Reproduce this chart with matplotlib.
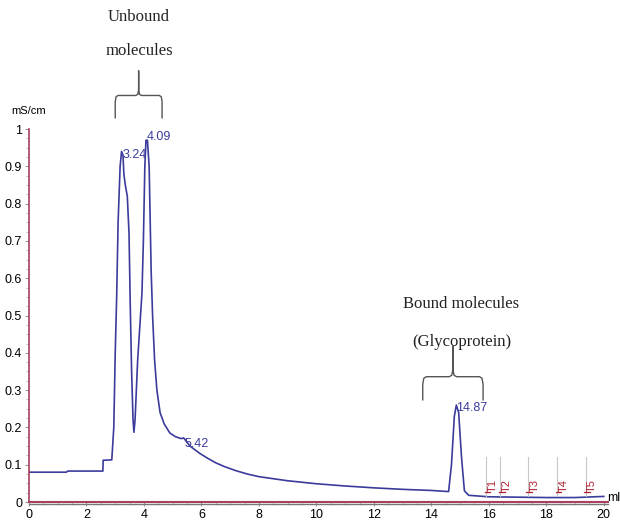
import numpy as np
import matplotlib
matplotlib.use("Agg")
import matplotlib.pyplot as plt
from matplotlib.ticker import MultipleLocator

# chromatogram trace (ml, mS/cm)
volume = [0, 1.3, 1.35, 2.3, 2.57, 2.58, 2.88, 2.95, 3.0, 3.05, 3.1, 3.17, 3.22,
          3.27, 3.3, 3.35, 3.42, 3.48, 3.52, 3.57, 3.62, 3.65, 3.69, 3.78, 3.88,
          3.93, 3.98, 4.03, 4.07, 4.12, 4.18, 4.25, 4.3, 4.37, 4.45, 4.56, 4.7,
          4.9, 5.1, 5.3, 5.38, 5.45, 5.6, 5.95, 6.2, 6.5, 6.8, 7.2, 7.6, 8, 9,
          10, 11, 12, 13, 14, 14.6, 14.7, 14.8, 14.87, 14.95, 15.05, 15.15,
          15.3, 16, 17, 18, 19, 20]
conductivity = [0.08, 0.08, 0.083, 0.083, 0.083, 0.112, 0.113, 0.2, 0.4, 0.55,
                0.75, 0.9, 0.94, 0.93, 0.88, 0.85, 0.82, 0.72, 0.54, 0.35, 0.22,
                0.187, 0.22, 0.38, 0.5, 0.56, 0.7, 0.9, 0.97, 0.97, 0.9, 0.62,
                0.5, 0.38, 0.3, 0.24, 0.21, 0.185, 0.175, 0.17, 0.172, 0.165,
                0.15, 0.13, 0.118, 0.105, 0.095, 0.084, 0.075, 0.068, 0.057,
                0.049, 0.043, 0.038, 0.034, 0.031, 0.028, 0.1, 0.23, 0.26,
                0.24, 0.12, 0.03, 0.018, 0.014, 0.013, 0.012, 0.012, 0.015]

peak_x = [3.24, 4.09, 5.42, 14.87]
peak_y = [0.93, 0.98, 0.155, 0.253]
peak_labels = ["3.24", "4.09", "5.42", "14.87"]

fraction_x = [15.9, 16.4, 17.36, 18.37, 19.37]
fraction_labels = ["T1", "T2", "T3", "T4", "T5"]

sans = ["Liberation Sans Narrow", "Liberation Sans", "DejaVu Sans"]
serif = ["Liberation Serif", "DejaVu Serif"]
line_col = "#3b3b9c"
axis_red = "#a8405e"


def brace(ax, x0, x1, y_top, y_bar, y_end):
    xm = (x0 + x1) / 2
    dx = (x1 - x0) * 0.06
    dy = (y_top - y_bar) * 0.25
    xs = [x0, x0, x0 + dx * 0.3, x0 + dx, xm - dx, xm - dx * 0.3, xm, xm,
          xm, xm + dx * 0.3, xm + dx, x1 - dx, x1 - dx * 0.3, x1, x1]
    ys = [y_end, y_bar - dy, y_bar - dy * 0.2, y_bar, y_bar, y_bar + dy * 0.2,
          y_bar + dy, y_top, y_bar + dy, y_bar + dy * 0.2, y_bar, y_bar,
          y_bar - dy * 0.2, y_bar - dy, y_end]
    ax.plot(xs, ys, color="#555555", lw=1.0, clip_on=False)


fig = plt.figure(figsize=(6.2, 5.28), dpi=100)
ax = fig.add_axes([0.0468, 0.0492, 0.934, 0.7064])

ax.plot(volume, conductivity, color=line_col, lw=1.2)

for x, y, s in zip(peak_x, peak_y, peak_labels):
    ax.text(x, y, s, color=line_col, fontsize=9, family=sans, ha="left",
            va="center")

for x, s in zip(fraction_x, fraction_labels):
    ax.plot([x, x], [0.015, 0.12], color="#c8c8c8", lw=0.8)
    ax.plot([x - 0.05, x + 0.15], [0.027, 0.027], color="#b02030", lw=0.9)
    ax.text(x + 0.05, 0.028, s, color="#b02030", fontsize=8, family=sans,
            rotation=90, ha="left", va="bottom")

# annotations
ax.text(3.83, 1.30, "Unbound", family=serif, fontsize=12, ha="center",
        va="center", color="#222222", clip_on=False)
ax.text(3.83, 1.21, "molecules", family=serif, fontsize=12, ha="center",
        va="center", color="#222222", clip_on=False)
brace(ax, 3.0, 4.63, 1.156, 1.09, 1.03)

ax.text(15.05, 0.53, "Bound molecules", family=serif, fontsize=12,
        ha="center", va="center", color="#222222")
ax.text(15.05, 0.43, "(Glycoprotein)", family=serif, fontsize=12,
        ha="center", va="center", color="#222222")
brace(ax, 13.7, 15.8, 0.417, 0.336, 0.274)

ax.text(-0.6, 1.035, "mS/cm", family=sans, fontsize=8, ha="left",
        va="bottom", clip_on=False)
ax.text(20.12, 0.012, "ml", family=sans, fontsize=9, ha="left",
        va="center", clip_on=False)

ax.set_xlim(0, 20.15)
ax.set_ylim(0, 1)
ax.xaxis.set_minor_locator(MultipleLocator(0.5))
ax.yaxis.set_minor_locator(MultipleLocator(0.025))
ax.set_yticks(np.arange(0, 1.01, 0.1))
ax.set_yticklabels(["0", "0.1", "0.2", "0.3", "0.4", "0.5", "0.6", "0.7",
                    "0.8", "0.9", "1"])
ax.set_xticks(range(0, 21, 2))
ax.set_xticklabels([str(v) for v in range(0, 21, 2)])
for lab in ax.get_xticklabels() + ax.get_yticklabels():
    lab.set_family(sans)
    lab.set_fontsize(9)
ax.tick_params(which="major", length=3, color="#999999", pad=2)
ax.tick_params(which="minor", length=2, color="#bbbbbb")

ax.spines["top"].set_visible(False)
ax.spines["right"].set_visible(False)
ax.spines["left"].set_color(axis_red)
ax.spines["left"].set_linewidth(1.2)
ax.spines["bottom"].set_color(axis_red)
ax.spines["bottom"].set_linewidth(1.5)
ax.axhline(-0.004, color="#777777", lw=1.0, clip_on=False)

fig.savefig("out.png", dpi=100)
